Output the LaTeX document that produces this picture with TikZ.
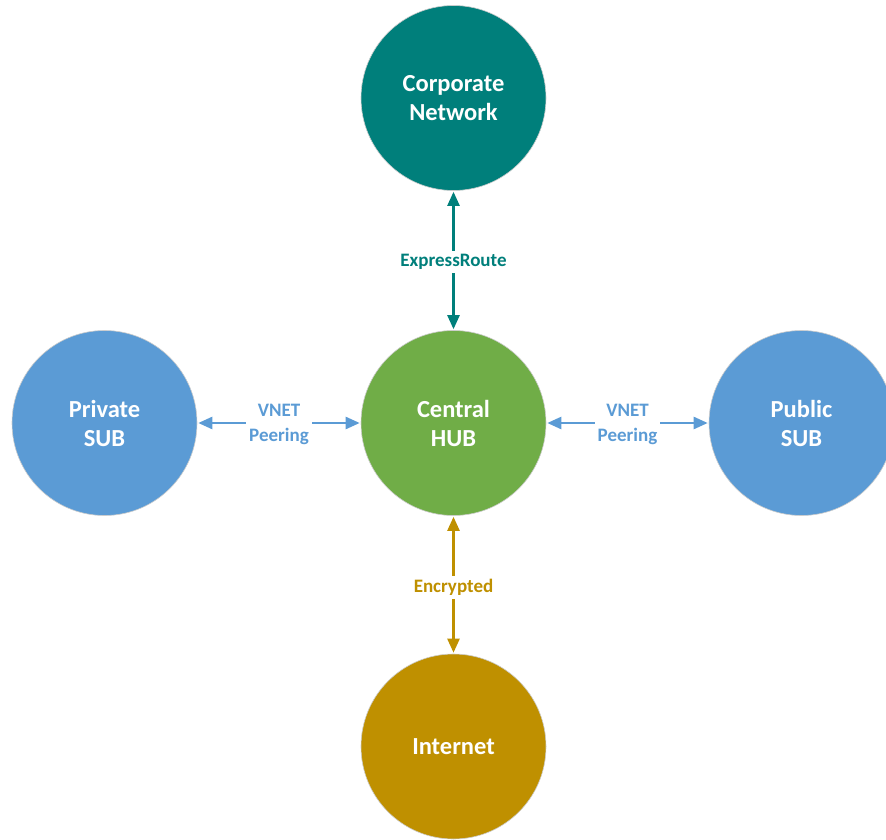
\documentclass[tikz,border=0pt]{standalone}
\usepackage{fontspec}
\setmainfont{Carlito}
\usetikzlibrary{arrows.meta}
\definecolor{teal1}{HTML}{007F7B}
\definecolor{green1}{HTML}{70AD47}
\definecolor{blue1}{HTML}{5B9BD5}
\definecolor{gold1}{HTML}{BF9000}
\tikzset{
  site/.style={circle, minimum size=185pt, inner sep=0pt, text=white,
    font=\fontsize{24.5}{29}\selectfont\bfseries, align=center, draw=white!80!black, line width=0.6pt},
  link/.style={{Triangle[length=14pt,width=12pt]}-{Triangle[length=14pt,width=12pt]}, line width=2.4pt, shorten <=1pt, shorten >=1pt},
  lbl/.style={fill=white, font=\fontsize{19}{25}\selectfont\bfseries, align=center, inner sep=3pt}
}
\begin{document}
\begin{tikzpicture}[x=1pt,y=-1pt]
\useasboundingbox (0,0) rectangle (886,840);
\node[site, fill=teal1] (corp) at (453.5,98) {Corporate\\Network};
\node[site, fill=green1] (hub) at (453.5,423) {Central\\HUB};
\node[site, fill=blue1] (priv) at (104.5,423) {Private\\SUB};
\node[site, fill=blue1] (pub) at (801.5,423) {Public\\SUB};
\node[site, fill=gold1] (inet) at (453.5,746.5) {Internet};
\draw[link, teal1] (hub) -- (corp) node[lbl, pos=0.49, text=teal1] {ExpressRoute};
\draw[link, gold1] (hub) -- (inet) node[lbl, pos=0.52, text=gold1] {Encrypted};
\draw[link, blue1] (priv) -- (hub) node[lbl, midway, text=blue1, yshift=-1pt] {VNET\\Peering};
\draw[link, blue1] (hub) -- (pub) node[lbl, midway, text=blue1, yshift=-1pt] {VNET\\Peering};
\end{tikzpicture}
\end{document}
